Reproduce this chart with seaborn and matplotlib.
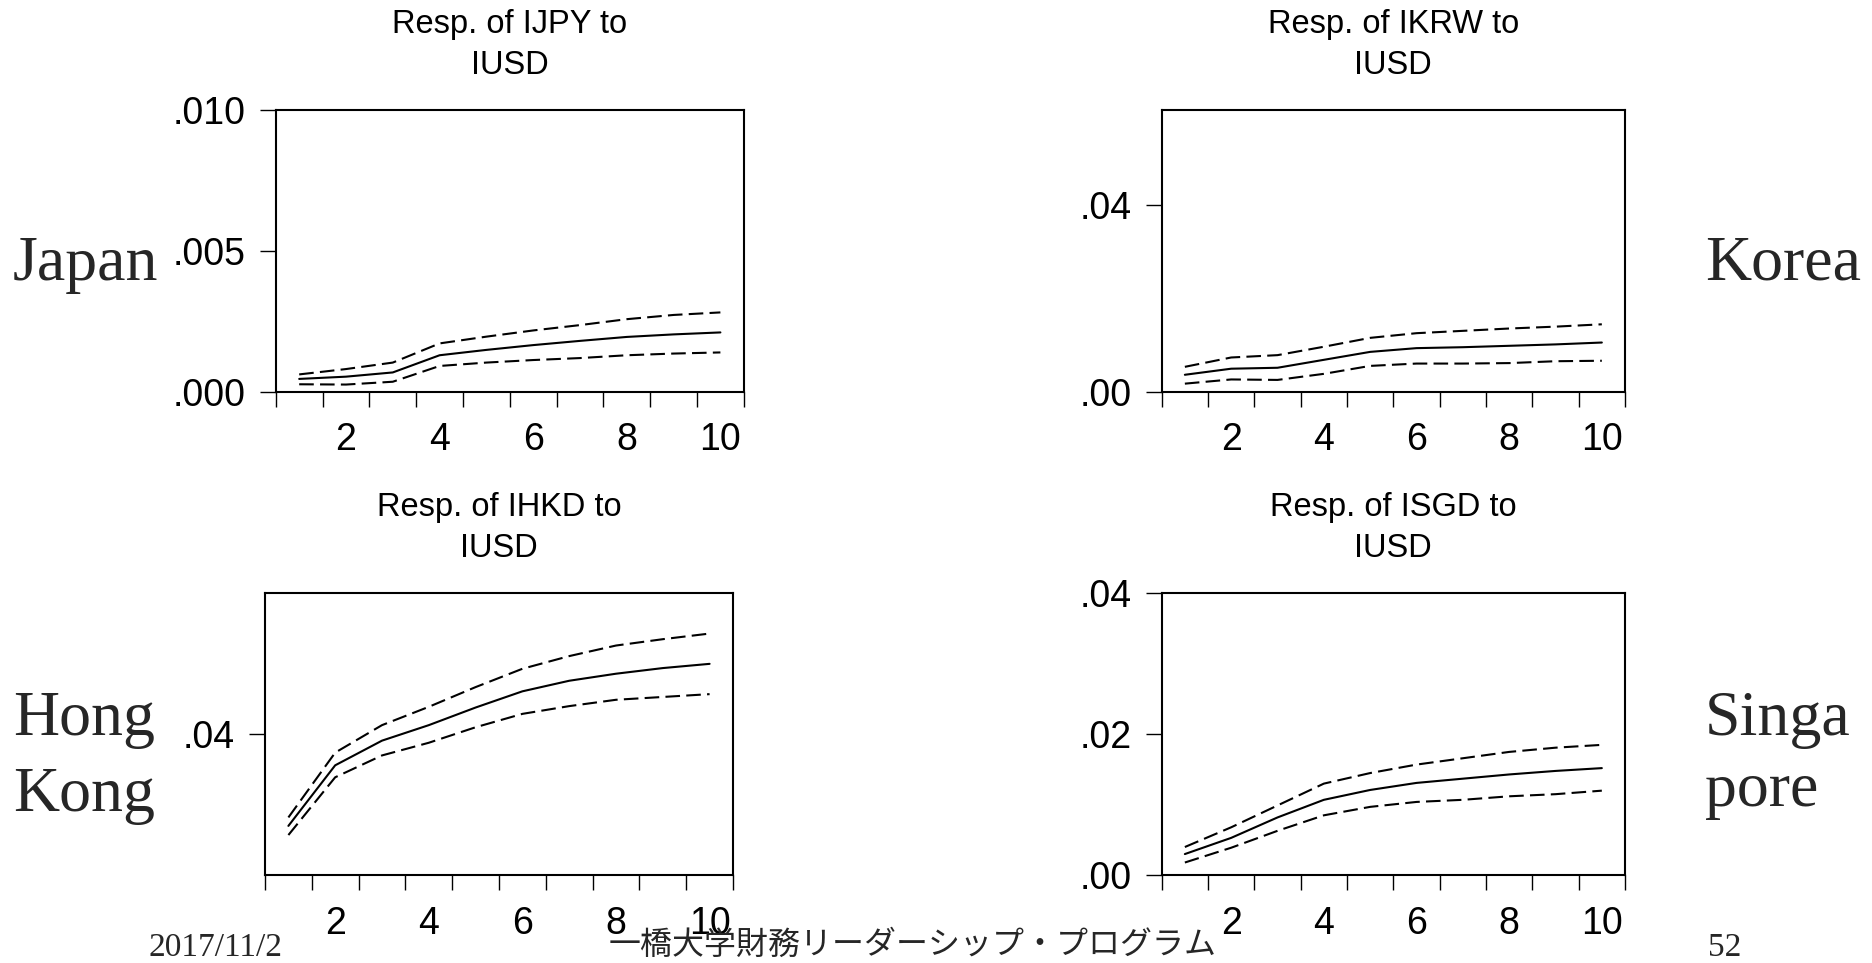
import matplotlib
matplotlib.use("Agg")
import matplotlib.pyplot as plt
from matplotlib.ticker import FixedLocator, FuncFormatter
import seaborn as sns
import pandas as pd
import numpy as np

# ---------------- data ----------------
periods = list(range(1, 11))

jpy_irf   = [0.00045, 0.00053, 0.00068, 0.00129, 0.00148, 0.00165, 0.00180, 0.00194, 0.00203, 0.00210]
jpy_upper = [0.00061, 0.00080, 0.00103, 0.00171, 0.00195, 0.00217, 0.00236, 0.00257, 0.00272, 0.00281]
jpy_lower = [0.00026, 0.00025, 0.00035, 0.00091, 0.00103, 0.00112, 0.00119, 0.00129, 0.00135, 0.00139]

krw_irf   = [0.0036, 0.0049, 0.0051, 0.0068, 0.0085, 0.0093, 0.0095, 0.0098, 0.0101, 0.0105]
krw_upper = [0.0053, 0.0073, 0.0078, 0.0096, 0.0115, 0.0125, 0.0130, 0.0135, 0.0139, 0.0144]
krw_lower = [0.0017, 0.0026, 0.0025, 0.0038, 0.0055, 0.0060, 0.0060, 0.0061, 0.0065, 0.0066]

hkd_irf   = [0.0270, 0.0356, 0.0391, 0.0413, 0.0438, 0.0461, 0.0476, 0.0486, 0.0494, 0.0500]
hkd_upper = [0.0282, 0.0374, 0.0413, 0.0439, 0.0467, 0.0493, 0.0511, 0.0526, 0.0535, 0.0543]
hkd_lower = [0.0257, 0.0339, 0.0370, 0.0388, 0.0410, 0.0429, 0.0440, 0.0449, 0.0453, 0.0457]

sgd_irf   = [0.0030, 0.0053, 0.0082, 0.0107, 0.0121, 0.0131, 0.0137, 0.0143, 0.0148, 0.0152]
sgd_upper = [0.0040, 0.0068, 0.0099, 0.0130, 0.0145, 0.0157, 0.0166, 0.0175, 0.0181, 0.0185]
sgd_lower = [0.0018, 0.0039, 0.0063, 0.0085, 0.0097, 0.0104, 0.0107, 0.0112, 0.0115, 0.0120]

titles = ["Resp. of IJPY to\nIUSD", "Resp. of IKRW to\nIUSD",
          "Resp. of IHKD to\nIUSD", "Resp. of ISGD to\nIUSD"]
x_tick_labels = ["2", "4", "6", "8", "10"]
jpy_yticks = [0.0, 0.005, 0.010]
krw_yticks = [0.0, 0.04]
hkd_yticks = [0.04]
sgd_yticks = [0.0, 0.02, 0.04]
footer_date = "2017/11/2"
footer_title = "一橋大学財務リーダーシップ・プログラム"
footer_page = "52"

# ---------------- style ----------------
sns.set_theme(style="white")
plt.rcParams["font.family"] = ["Liberation Sans", "DejaVu Sans"]

W, H = 1872, 963
fig = plt.figure(figsize=(W / 100, H / 100), dpi=100)
fig.patch.set_facecolor("white")


def ax_at(left, top, right, bottom):
    return fig.add_axes([left / W, 1 - bottom / H, (right - left) / W, (bottom - top) / H])


panels = [
    (ax_at(275.8, 109.8, 743.8, 391.6), jpy_irf, jpy_upper, jpy_lower, (0.0, 0.010), jpy_yticks, 3),
    (ax_at(1161.7, 109.8, 1625.0, 391.6), krw_irf, krw_upper, krw_lower, (0.0, 0.0603), krw_yticks, 2),
    (ax_at(265.0, 593.4, 733.0, 875.2), hkd_irf, hkd_upper, hkd_lower, (0.02, 0.06), hkd_yticks, 2),
    (ax_at(1161.7, 593.4, 1625.0, 875.2), sgd_irf, sgd_upper, sgd_lower, (0.0, 0.04), sgd_yticks, 2),
]


def make_fmt(nd):
    def f(v, pos):
        s = f"{v:.{nd}f}"
        if s.startswith("0."):
            s = s[1:]
        return s
    return FuncFormatter(f)


for (ax, irf, up, lo, ylim, yticks, nd), title in zip(panels, titles):
    df = pd.DataFrame({
        "period": periods * 3,
        "value": irf + up + lo,
        "band": ["irf"] * 10 + ["upper"] * 10 + ["lower"] * 10,
    })
    sns.lineplot(data=df, x="period", y="value", style="band",
                 dashes={"irf": "", "upper": (7, 3), "lower": (7, 3)},
                 color="black", linewidth=1.5, estimator=None, legend=False, ax=ax)
    ax.set_xlim(0.5, 10.5)
    ax.set_ylim(*ylim)
    ax.set_xlabel("")
    ax.set_ylabel("")
    ax.set_facecolor("white")
    for sp in ax.spines.values():
        sp.set_visible(True)
        sp.set_color("black")
        sp.set_linewidth(1.5)

    ax.xaxis.set_major_locator(FixedLocator([2, 4, 6, 8, 10]))
    ax.set_xticklabels(x_tick_labels)
    ax.xaxis.set_minor_locator(FixedLocator(np.arange(0.5, 10.6, 1.0)))
    ax.tick_params(axis="x", which="major", length=0, pad=22, labelsize=27, colors="black")
    ax.tick_params(axis="x", which="minor", bottom=True, direction="out", length=11,
                   width=1.0, color="black")

    ax.yaxis.set_major_locator(FixedLocator(yticks))
    ax.yaxis.set_major_formatter(make_fmt(nd))
    ax.tick_params(axis="y", which="major", left=True, direction="out", length=11.5,
                   width=1.0, pad=10, labelsize=27, colors="black")
    ax.set_title(title, fontsize=23.5, pad=26, linespacing=1.42, color="black")

# ---------------- country labels ----------------
serif = ["Liberation Serif", "DejaVu Serif"]
fig.text(13 / W, 1 - 280 / H, "Japan", family=serif, fontsize=46, va="baseline", ha="left")
fig.text(1705 / W, 1 - 280 / H, "Korea", family=serif, fontsize=46, va="baseline", ha="left")
fig.text(13 / W, 1 - 735 / H, "Hong", family=serif, fontsize=46, va="baseline", ha="left")
fig.text(13 / W, 1 - 811 / H, "Kong", family=serif, fontsize=46, va="baseline", ha="left")
fig.text(1705 / W, 1 - 735 / H, "Singa", family=serif, fontsize=46, va="baseline", ha="left")
fig.text(1705 / W, 1 - 806 / H, "pore", family=serif, fontsize=46, va="baseline", ha="left")

# ---------------- footer ----------------
fig.text(215 / W, 1 - 948 / H, footer_date, family=serif, fontsize=24, va="center", ha="center")
fig.text(913 / W, 1 - 945 / H, footer_title, family=["Noto Sans CJK JP", "DejaVu Sans"],
         fontsize=23, va="center", ha="center")
fig.text(1725 / W, 1 - 948 / H, footer_page, family=serif, fontsize=24, va="center", ha="center")

fig.savefig("out.png", dpi=100, facecolor="white")
